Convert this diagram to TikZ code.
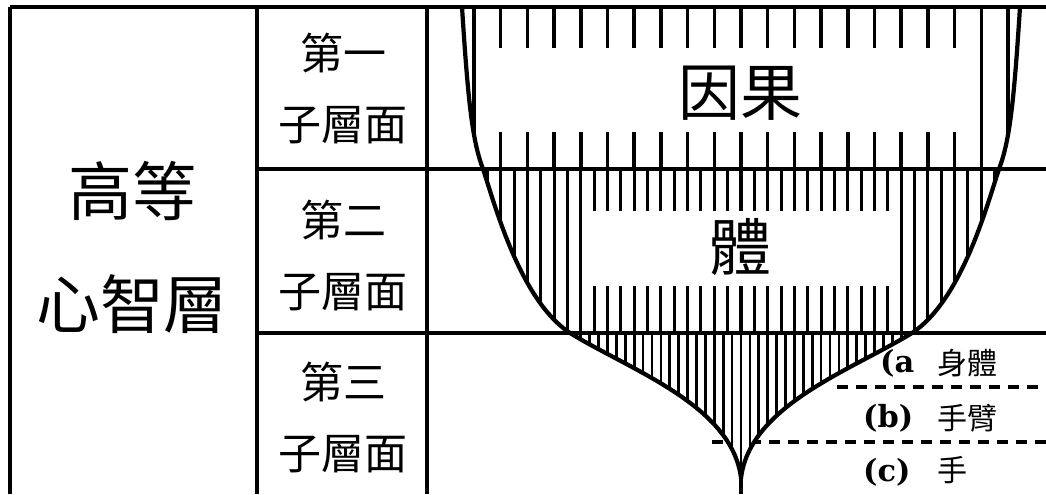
\documentclass[tikz,border=0pt]{standalone}
\usepackage{fontspec}
\setmainfont{Noto Sans CJK TC}
\newfontfamily\tagfont{DejaVu Serif}
\usetikzlibrary{calc}
\definecolor{strich}{RGB}{0,0,0}
\newcommand{\vasepath}{(462,7) .. controls (468,100) and (472,140) .. (483,169)
  .. controls (495,205) and (520,300) .. (570,333)
  .. controls (630,370) and (732,405) .. (741,478)
  .. controls (750,405) and (852,370) .. (912,333)
  .. controls (962,300) and (987,205) .. (999,169)
  .. controls (1010,140) and (1014,100) .. (1020,7)}

\begin{document}
\begin{tikzpicture}[strich, x=0.03cm, y=-0.03cm,
    rule/.style={line width=2.7pt},
    outline/.style={line width=3.6pt},
    hatchA/.style={line width=3pt},
    hatchB/.style={line width=2.6pt},
    hatchC/.style={line width=2.3pt},
    dashrule/.style={line width=2.6pt, dash pattern=on 0.33cm off 0.24cm},
    bigtext/.style={font=\fontsize{54.6}{96.4}\selectfont, align=center, inner sep=0pt},
    subtext/.style={font=\fontsize{36.7}{60.6}\selectfont, align=center, inner sep=0pt},
    maintext/.style={font=\fontsize{52.9}{60}\selectfont, inner sep=0pt},
    parttext/.style={font=\fontsize{25.6}{30}\selectfont, inner sep=0pt, anchor=west},
    tagtext/.style={font=\tagfont\bfseries\fontsize{26}{30}\selectfont, inner sep=0pt, anchor=west}]
        \useasboundingbox (0,0) rectangle (1046,494);

        % dashed borders of the third sub-layer
        \draw[dashrule] (837,387) -- (1046,387);
        \draw[dashrule] (712,442) -- (1046,442);

        % the vase and its hatching
        \fill[white] \vasepath -- cycle;
        \begin{scope}
            \clip \vasepath -- cycle;
            \foreach \k in {0,...,20}
                \draw[hatchA] ({474+26.7*\k},5) -- ({474+26.7*\k},169);
            \fill[white] (490,48) rectangle (968,132);
            \foreach \k in {0,...,41}
                \draw[hatchB] ({474+13.35*\k},169) -- ({474+13.35*\k},333);
            \fill[white] (588,211) rectangle (896,286);
            \foreach \k in {-20,...,20}
                \draw[hatchC] ({741+8.9*\k},333) -- ({741+8.9*\k},480);
        \end{scope}

        % table rules
        \draw[rule] (10,7) -- (1046,7);
        \draw[rule] (10,7) -- (10,494);
        \draw[rule] (257,7) -- (257,494);
        \draw[rule] (427,7) -- (427,494);
        \draw[rule] (257,169) -- (1046,169);
        \draw[rule] (257,333) -- (1046,333);

        \draw[outline] \vasepath;
        \draw[outline] (741,476) -- (741,494);

        % texts
        \node[bigtext] (higher) at (132,247) {高等\\心智層};
        \node[subtext] (sub1) at (343,88) {第一\\子層面};
        \node[subtext] (sub2) at (343,255) {第二\\子層面};
        \node[subtext] (sub3) at (343,417) {第三\\子層面};
        \node[maintext] (cause) at (740,93) {因果};
        \node[maintext] (body) at (740,247) {體};
        \node[tagtext] (tagA) at (880,363) {(a};
        \node[parttext] (partA) at (937,363) {身體};
        \node[tagtext] (tagB) at (863,418) {(b)};
        \node[parttext] (partB) at (937,418) {手臂};
        \node[tagtext] (tagC) at (863,472) {(c)};
        \node[parttext] (partC) at (937,470) {手};
\end{tikzpicture}
\end{document}
